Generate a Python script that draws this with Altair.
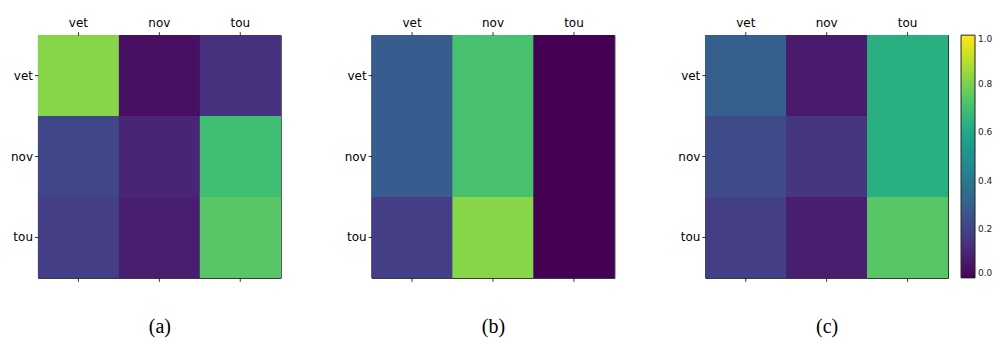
import altair as alt
import pandas as pd

cats = ["vet", "nov", "tou"]

# rows = true class (y), columns = predicted (x)
vals_a = [[0.82, 0.04, 0.14],
          [0.21, 0.10, 0.69],
          [0.18, 0.08, 0.74]]
vals_b = [[0.29, 0.71, 0.00],
          [0.29, 0.71, 0.00],
          [0.18, 0.82, 0.00]]
vals_c = [[0.30, 0.07, 0.63],
          [0.22, 0.15, 0.63],
          [0.18, 0.08, 0.74]]
panel_labels = ["(a)", "(b)", "(c)"]
legend_values = [0.0, 0.2, 0.4, 0.6, 0.8, 1.0]

SIZE = 243
band = alt.Scale(paddingInner=0, paddingOuter=0)

y_axis = alt.Axis(title=None, labelFontSize=12, labelFont="DejaVu Sans",
                  labelColor="black", tickColor="black", tickSize=3.5,
                  tickWidth=0.8, domain=False, labelPadding=2)


def make_df(vals):
    rows = []
    for i, t in enumerate(cats):
        for j, p in enumerate(cats):
            rows.append({"true": t, "pred": p, "v": vals[i][j]})
    return pd.DataFrame(rows)


def panel(vals, label, legend):
    df = make_df(vals)
    color_legend = None
    if legend:
        color_legend = alt.Legend(
            title=None, orient="right", offset=13, padding=0,
            gradientLength=SIZE, gradientThickness=14,
            values=legend_values, format=".1f",
            labelFontSize=9, labelFont="DejaVu Sans", labelColor="#222",
            labelOffset=3,
            gradientStrokeColor="#222", gradientStrokeWidth=1,
        )
    color = alt.Color("v:Q", scale=alt.Scale(scheme="viridis", domain=[0, 1]),
                      legend=color_legend)
    top = alt.Chart(df).mark_rect().encode(
        x=alt.X("pred:N", sort=cats, scale=band,
                axis=alt.Axis(orient="top", title=None, labelAngle=0,
                              labelFontSize=12, labelFont="DejaVu Sans",
                              labelColor="black", tickColor="black",
                              tickSize=3.5, tickWidth=0.8, domain=False,
                              labelPadding=2)),
        y=alt.Y("true:N", sort=cats, scale=band, axis=y_axis),
        color=color,
    )
    # same cells drawn again (hides anti-aliasing seams between cells)
    mid = alt.Chart(df).mark_rect().encode(
        x=alt.X("pred:N", sort=cats, scale=band, axis=None),
        y=alt.Y("true:N", sort=cats, scale=band, axis=y_axis),
        color=color,
    )
    bottom = alt.Chart(df).mark_rect().encode(
        x=alt.X("pred:N", sort=cats, scale=band,
                axis=alt.Axis(orient="bottom", title=label, labels=False,
                              tickColor="black", tickSize=3.5, tickWidth=0.8,
                              domain=False, titleFont="Liberation Serif",
                              titleFontSize=20, titleFontWeight="normal",
                              titleColor="black", titlePadding=35)),
        y=alt.Y("true:N", sort=cats, scale=band, axis=y_axis),
        color=color,
    )
    return alt.layer(top, mid, bottom).resolve_axis(x="independent").properties(
        width=SIZE, height=SIZE)


chart = alt.hconcat(
    panel(vals_a, panel_labels[0], False),
    panel(vals_b, panel_labels[1], False),
    panel(vals_c, panel_labels[2], True),
    spacing=91, bounds="flush",
).resolve_scale(color="independent").properties(
    padding={"left": 1, "top": 8, "right": 0, "bottom": 0}
).configure_view(stroke="#222", strokeWidth=1)

chart.save("out.html", embed_options={"renderer": "svg", "actions": False})
